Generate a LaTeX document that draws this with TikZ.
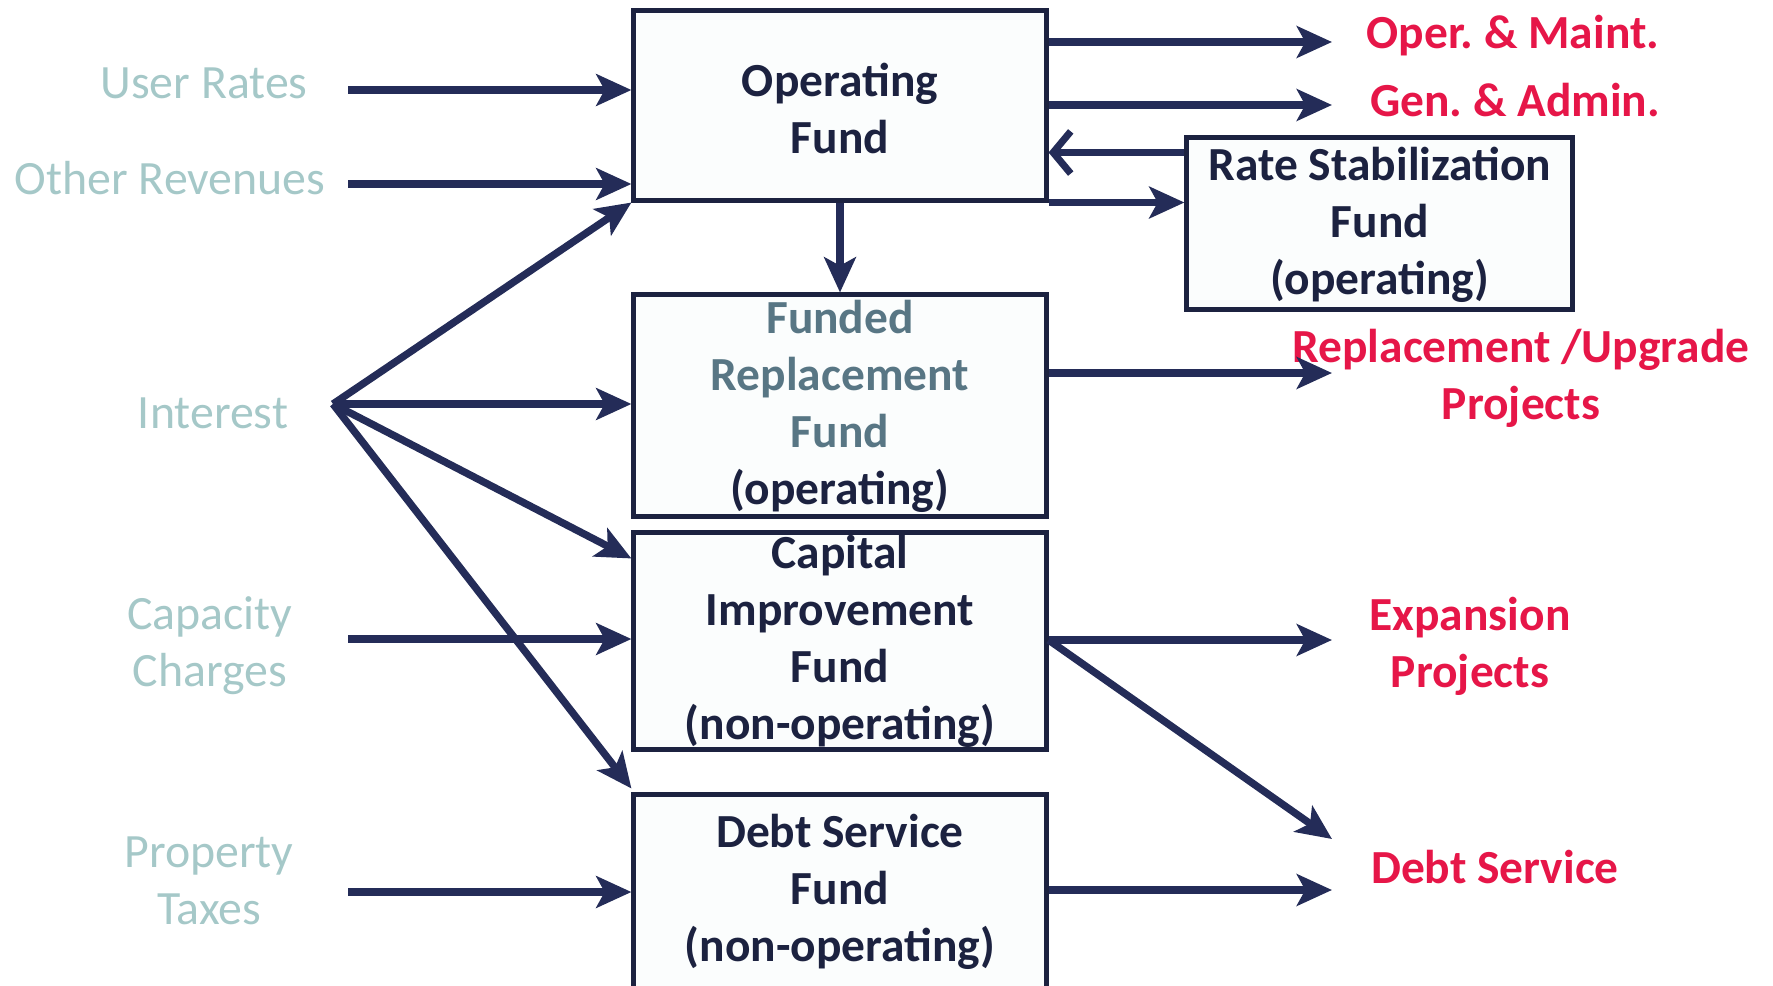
\documentclass[tikz,border=0pt]{standalone}
\usepackage{fontspec}
\setmainfont{Carlito}
\usetikzlibrary{arrows.meta,calc}
\definecolor{navy}{RGB}{28,34,64}
\definecolor{arrowc}{RGB}{36,44,88}
\definecolor{redlbl}{RGB}{230,22,72}
\definecolor{srclbl}{RGB}{165,200,200}
\definecolor{fundgrey}{RGB}{88,118,132}
\definecolor{boxfill}{RGB}{251,253,253}
\tikzset{
  fundbox/.style={draw=navy,line width=1.4pt,fill=boxfill,inner sep=0pt},
  boxtext/.style={text=navy,font=\fontsize{13.5}{16.2}\selectfont\bfseries,align=center,inner sep=0pt},
  srctext/.style={text=srclbl,font=\fontsize{13.6}{16.2}\selectfont,align=center,inner sep=0pt},
  outtext/.style={text=redlbl,font=\fontsize{13.5}{16.2}\selectfont\bfseries,align=center,inner sep=0pt},
  flow/.style={draw=arrowc,line width=2.1pt,-{Stealth[length=10pt,width=9pt,inset=2.4pt]}},
  backflow/.style={draw=arrowc,line width=2.1pt,-{Straight Barb[length=5pt,width=12pt,line width=2pt]}}
}
\frenchspacing
\begin{document}
\begin{tikzpicture}[x=0.01cm,y=-0.01cm]
\useasboundingbox (0,0) rectangle (1773,985);
% boxes
\node[fundbox,minimum width=4.12cm,minimum height=1.89cm] (op) at (840,105.5) {};
\node[fundbox,minimum width=3.85cm,minimum height=1.71cm] (rs) at (1379.5,223.5) {};
\node[fundbox,minimum width=4.12cm,minimum height=2.21cm] (fr) at (840,405.5) {};
\node[fundbox,minimum width=4.12cm,minimum height=2.16cm] (ci) at (840,641) {};
\node[fundbox,minimum width=4.12cm,minimum height=1.94cm] (ds) at (840,892) {};
% box texts
\node[boxtext] (opt) at (840,108) {Operating\\Fund};
\node[boxtext] (rst) at (1380,225) {Rate Stabilization\\Fund\\(operating)};
\node[boxtext] (frt) at (840,406) {\textcolor{fundgrey}{Funded}\\\textcolor{fundgrey}{Replacement}\\\textcolor{fundgrey}{Fund}\\(operating)};
\node[boxtext] (cit) at (840,641) {Capital\\Improvement\\Fund\\(non-operating)};
\node[boxtext] (dst) at (840,892) {Debt Service\\Fund\\(non-operating)};
% source labels
\node[srctext] (ur) at (204,83) {User Rates};
\node[srctext] (orv) at (170,178) {Other Revenues};
\node[srctext] (int) at (213,413) {Interest};
\node[srctext] (cap) at (210,646) {Capacity\\Charges};
\node[srctext] (pt) at (209,881) {Property\\Taxes};
% output labels
\node[outtext] (om) at (1513,36) {Oper. \& Maint.};
\node[outtext] (ga) at (1515,100) {Gen. \& Admin.};
\node[outtext] (rup) at (1521,378) {Replacement /Upgrade\\Projects};
\node[outtext] (exp) at (1470,646) {Expansion\\Projects};
\node[outtext] (dsv) at (1495,867) {Debt Service};
% free-end coordinates
\coordinate (urs) at (348,90);
\coordinate (ors) at (348,184);
\coordinate (ints) at (333,404);
\coordinate (caps) at (348,639);
\coordinate (pts) at (348,892);
\coordinate (omt) at (1332,42);
\coordinate (gat) at (1332,105);
\coordinate (rupt) at (1332,373);
\coordinate (expt) at (1332,640);
\coordinate (dsvt) at (1332,839);
\coordinate (dsot) at (1332,890);
\coordinate (rsb) at ($(rs.north west)+(0,17)$);
\coordinate (cit) at ($(ci.north west)+(0,28)$);
\coordinate (dst) at ($(ds.north west)+(0,-4)$);
% inflows
\draw[flow] (urs) -- (urs -| op.west);
\draw[flow] (ors) -- (ors -| op.west);
\draw[flow] (ints) -- (op.south west);
\draw[flow] (ints) -- (ints -| fr.west);
\draw[flow] (ints) -- (cit);
\draw[flow] (ints) -- (dst);
\draw[flow] (caps) -- (caps -| ci.west);
\draw[flow] (pts) -- (pts -| ds.west);
% operating fund flows
\draw[flow] (omt -| op.east) -- (omt);
\draw[flow] (gat -| op.east) -- (gat);
\draw[backflow] (rsb) -- (rsb -| op.east);
\draw[flow] (op.south east) -- (op.south east -| rs.west);
\draw[flow] (op.south) -- (fr.north);
% outflows
\draw[flow] (rupt -| fr.east) -- (rupt);
\draw[flow] (expt -| ci.east) -- (expt);
\draw[flow] (expt -| ci.east) -- (dsvt);
\draw[flow] (dsot -| ds.east) -- (dsot);
\end{tikzpicture}
\end{document}
